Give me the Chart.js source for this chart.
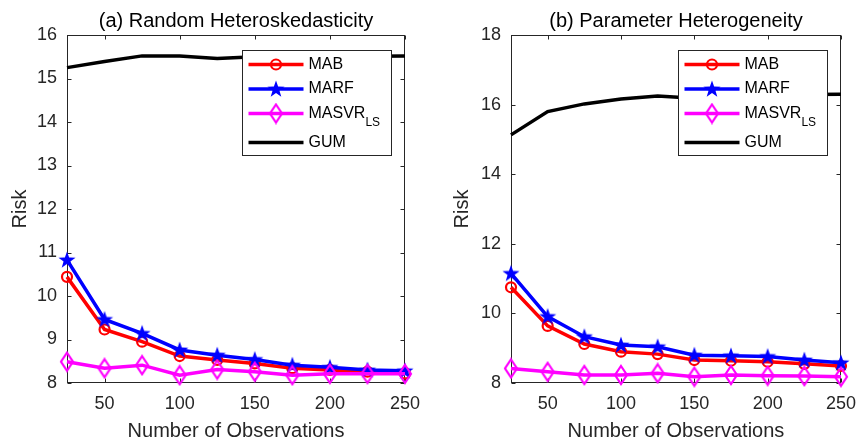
<!DOCTYPE html>
<html>
<head>
<meta charset="utf-8">
<script src="https://cdn.jsdelivr.net/npm/chart.js@4.4.1/dist/chart.umd.min.js"></script>
<style>
  html, body { margin: 0; padding: 0; background: #fff; }
  #wrap { position: relative; width: 866px; height: 445px; }
  canvas { position: absolute; top: 0; }
  #chartA { left: 0; }
  #chartB { left: 433px; }
</style>
</head>
<body>
<div id="wrap">
  <canvas id="chartA" width="433" height="445"></canvas>
  <canvas id="chartB" width="433" height="445"></canvas>
</div>
<script>
// sample sizes on the x axis
const obsCounts = [25, 50, 75, 100, 125, 150, 175, 200, 225, 250];
const xTickValues = [50, 100, 150, 200, 250];

const seriesNames = ['MAB', 'MARF', 'MASVR', 'GUM'];
const seriesSubs = ['', '', 'LS', ''];

// (a) random heteroskedasticity
const mabRandom   = [10.44, 9.23, 8.95, 8.62, 8.53, 8.45, 8.34, 8.30, 8.26, 8.22];
const marfRandom  = [10.83, 9.46, 9.14, 8.76, 8.64, 8.54, 8.41, 8.36, 8.30, 8.28];
const masvrRandom = [8.49, 8.34, 8.41, 8.18, 8.31, 8.26, 8.18, 8.21, 8.21, 8.21];
const gumRandom   = [15.25, 15.39, 15.52, 15.52, 15.46, 15.50, 15.50, 15.51, 15.51, 15.52];

// (b) parameter heterogeneity
const mabParam   = [10.75, 9.64, 9.12, 8.90, 8.83, 8.66, 8.64, 8.61, 8.55, 8.49];
const marfParam  = [11.15, 9.91, 9.33, 9.09, 9.04, 8.80, 8.78, 8.76, 8.66, 8.58];
const masvrParam = [8.42, 8.32, 8.23, 8.23, 8.28, 8.18, 8.23, 8.21, 8.20, 8.18];
const gumParam   = [15.13, 15.80, 16.02, 16.16, 16.25, 16.18, 16.22, 16.26, 16.29, 16.30];

const AXIS_COLOR = '#262626';
const FONT = '"Liberation Sans", Arial, Helvetica, sans-serif';
const colors = ['#ff0000', '#0000ff', '#ff00ff', '#000000'];
const LINE_W = 3.5;

Chart.defaults.font.family = FONT;
Chart.defaults.color = AXIS_COLOR;

// marker images (Chart.js has no filled 5-point star / tall diamond)
function makeStar() {
  const c = document.createElement('canvas');
  c.width = 20; c.height = 20;
  const g = c.getContext('2d');
  g.beginPath();
  for (let i = 0; i < 10; i++) {
    const r = i % 2 === 0 ? 9 : 3.6;
    const a = -Math.PI / 2 + i * Math.PI / 5;
    const px = 10 + r * Math.cos(a), py = 10.5 + r * Math.sin(a);
    if (i === 0) g.moveTo(px, py); else g.lineTo(px, py);
  }
  g.closePath();
  g.fillStyle = colors[1];
  g.fill();
  return c;
}

function makeDiamond() {
  const c = document.createElement('canvas');
  c.width = 16; c.height = 22;
  const g = c.getContext('2d');
  g.beginPath();
  g.moveTo(8, 2); g.lineTo(14, 11); g.lineTo(8, 20); g.lineTo(2, 11);
  g.closePath();
  g.strokeStyle = colors[2];
  g.lineWidth = 2.2;
  g.stroke();
  return c;
}

const starImg = makeStar();
const diamondImg = makeDiamond();

// box, inward ticks, title and legend drawn MATLAB-style
const matlabAxes = {
  id: 'matlabAxes',
  beforeDatasetsDraw(chart) {
    const { ctx, chartArea: a, scales: { x, y } } = chart;
    const L = Math.round(a.left) + 0.5, R = Math.round(a.right) - 0.5;
    const T = Math.round(a.top) + 0.5, B = Math.round(a.bottom) - 0.5;
    const tl = 4;
    ctx.save();
    ctx.strokeStyle = AXIS_COLOR;
    ctx.lineWidth = 1;
    ctx.strokeRect(L, T, R - L, B - T);
    ctx.beginPath();
    x.ticks.forEach(t => {
      const px = Math.round(x.getPixelForValue(t.value)) + 0.5;
      ctx.moveTo(px, B); ctx.lineTo(px, B - tl);
      ctx.moveTo(px, T); ctx.lineTo(px, T + tl);
    });
    y.ticks.forEach(t => {
      const py = Math.round(y.getPixelForValue(t.value)) + 0.5;
      ctx.moveTo(L, py); ctx.lineTo(L + tl, py);
      ctx.moveTo(R, py); ctx.lineTo(R - tl, py);
    });
    ctx.stroke();
    ctx.restore();
  },
  afterDraw(chart, args, opts) {
    const { ctx, chartArea: a } = chart;
    ctx.save();
    // title
    ctx.fillStyle = '#000';
    ctx.font = '20px ' + FONT;
    ctx.textAlign = 'center';
    ctx.textBaseline = 'alphabetic';
    ctx.fillText(opts.title, (a.left + a.right) / 2, 27);

    // legend
    const w = 149, h = 105;
    const bx = Math.round(a.right - 14 - w) + 0.5, by = Math.round(a.top + 15) + 0.5;
    ctx.fillStyle = '#fff';
    ctx.fillRect(bx, by, w, h);
    ctx.strokeStyle = AXIS_COLOR;
    ctx.lineWidth = 1;
    ctx.strokeRect(bx, by, w, h);
    const rows = [14, 38.5, 63, 92];
    seriesNames.forEach((name, i) => {
      const cy = by + rows[i];
      const x0 = bx + 6, x1 = bx + 61, mx = (x0 + x1) / 2;
      ctx.strokeStyle = colors[i];
      ctx.lineWidth = LINE_W;
      ctx.beginPath();
      ctx.moveTo(x0, cy); ctx.lineTo(x1, cy);
      ctx.stroke();
      if (i === 0) {
        ctx.lineWidth = 2.2;
        ctx.beginPath();
        ctx.arc(mx, cy, 5, 0, Math.PI * 2);
        ctx.stroke();
      } else if (i === 1) {
        ctx.drawImage(starImg, mx - starImg.width / 2, cy - starImg.height / 2);
      } else if (i === 2) {
        ctx.drawImage(diamondImg, mx - diamondImg.width / 2, cy - diamondImg.height / 2);
      }
      ctx.fillStyle = '#000';
      ctx.font = '16px ' + FONT;
      ctx.textAlign = 'left';
      ctx.textBaseline = 'middle';
      ctx.fillText(name, bx + 66, cy);
      if (seriesSubs[i]) {
        const tw = ctx.measureText(name).width;
        ctx.font = '12px ' + FONT;
        ctx.fillText(seriesSubs[i], bx + 66 + tw, cy + 9);
      }
    });
    ctx.restore();
  }
};

function makeChart(canvasId, title, series, yMin, yMax, yStep, yWidth, yTitlePad, padRight) {
  const pointStyles = ['circle', starImg, diamondImg, false];
  const datasets = series.map((vals, i) => ({
    label: seriesNames[i],
    data: obsCounts.map((n, k) => ({ x: n, y: vals[k] })),
    borderColor: colors[i],
    backgroundColor: 'rgba(0,0,0,0)',
    borderWidth: LINE_W,
    pointStyle: pointStyles[i],
    pointRadius: i === 3 ? 0 : (i === 0 ? 5 : 8),
    pointBorderWidth: 2.2,
    pointBorderColor: colors[i],
    pointBackgroundColor: 'rgba(0,0,0,0)',
    tension: 0,
    clip: false,
    order: 4 - i
  }));

  return new Chart(document.getElementById(canvasId), {
    type: 'line',
    data: { datasets },
    options: {
      responsive: false,
      animation: false,
      events: [],
      layout: { padding: { top: 35, right: padRight, left: 0, bottom: 0 } },
      plugins: {
        legend: { display: false },
        tooltip: { enabled: false },
        matlabAxes: { title }
      },
      scales: {
        x: {
          type: 'linear',
          min: 25,
          max: 250,
          afterBuildTicks: s => { s.ticks = xTickValues.map(v => ({ value: v })); },
          afterFit: s => { s.height = 62; },
          grid: { display: false, drawTicks: false },
          border: { display: false },
          ticks: { font: { size: 18 }, padding: 10, color: AXIS_COLOR, maxRotation: 0 },
          title: {
            display: true, text: 'Number of Observations',
            font: { size: 20 }, color: AXIS_COLOR, padding: { top: 0, bottom: 2 }
          }
        },
        y: {
          min: yMin,
          max: yMax,
          afterFit: s => { s.width = yWidth; },
          grid: { display: false, drawTicks: false },
          border: { display: false },
          ticks: { stepSize: yStep, font: { size: 18 }, padding: 10, color: AXIS_COLOR },
          title: {
            display: true, text: 'Risk',
            font: { size: 20 }, color: AXIS_COLOR, padding: { top: yTitlePad, bottom: 0 }
          }
        }
      }
    },
    plugins: [matlabAxes]
  });
}

makeChart('chartA', '(a) Random Heteroskedasticity',
  [mabRandom, marfRandom, masvrRandom, gumRandom], 8, 16, 1, 67, 8, 28);
makeChart('chartB', '(b) Parameter Heterogeneity',
  [mabParam, marfParam, masvrParam, gumParam], 8, 18, 2, 78, 17, 17);
</script>
</body>
</html>
